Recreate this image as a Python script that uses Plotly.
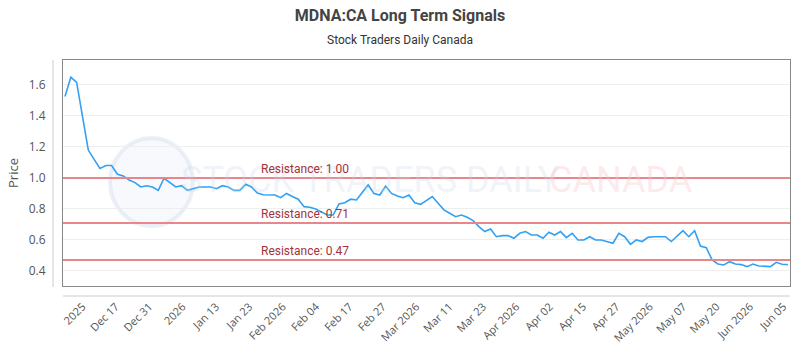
import plotly.graph_objects as go

# ---- data ----
prices = [
    1.525, 1.65, 1.617, 1.39, 1.18, 1.12, 1.062, 1.08, 1.08, 1.024,
    1.013, 0.987, 0.97, 0.942, 0.95, 0.942, 0.92, 0.998, 0.97, 0.942,
    0.95, 0.92, 0.931, 0.942, 0.942, 0.942, 0.931, 0.95, 0.942, 0.92,
    0.92, 0.959, 0.942, 0.903, 0.892, 0.892, 0.89, 0.873, 0.90, 0.88,
    0.863, 0.815, 0.811, 0.80, 0.783, 0.761, 0.761, 0.832, 0.84, 0.863,
    0.858, 0.905, 0.955, 0.90, 0.89, 0.948, 0.90, 0.884, 0.873, 0.89,
    0.84, 0.83, 0.858, 0.88, 0.837, 0.794, 0.772, 0.75, 0.761, 0.746,
    0.725, 0.686, 0.654, 0.671, 0.621, 0.628, 0.628, 0.611, 0.643, 0.654,
    0.632, 0.632, 0.611, 0.65, 0.632, 0.654, 0.615, 0.643, 0.60, 0.60,
    0.621, 0.60, 0.60, 0.59, 0.579, 0.643, 0.621, 0.572, 0.60, 0.59,
    0.617, 0.621, 0.621, 0.621, 0.59, 0.628, 0.66, 0.621, 0.66, 0.561,
    0.55, 0.471, 0.445, 0.439, 0.46, 0.445, 0.441, 0.428, 0.445, 0.432,
    0.432, 0.428, 0.456, 0.443, 0.441,
]
tick_labels = ["2025", "Dec 17", "Dec 31", "2026", "Jan 13", "Jan 23",
               "Feb 2026", "Feb 04", "Feb 17", "Feb 27", "Mar 2026", "Mar 11",
               "Mar 23", "Apr 2026", "Apr 02", "Apr 15", "Apr 27", "May 2026",
               "May 07", "May 20", "Jun 2026", "Jun 05"]
resistance_levels = [1.00, 0.71, 0.47]
y_ticks = [0.4, 0.6, 0.8, 1.0, 1.2, 1.4, 1.6]

x_idx = list(range(len(prices)))
tick_first, tick_step = 3.0, 5.725
tick_pos = [tick_first + tick_step * k for k in range(len(tick_labels))]

PW, PH = 727, 226  # plot area size in pixels

fig = go.Figure()
fig.add_trace(go.Scatter(
    x=x_idx, y=prices, mode="lines",
    line=dict(color="#33a0f2", width=1.6),
    hoverinfo="skip", showlegend=False,
))

shapes = []
annotations = []

# watermark
shapes.append(dict(type="circle", xref="paper", yref="paper",
                   x0=(110 - 63) / PW, x1=(193 - 63) / PW,
                   y0=(286 - 226) / PH, y1=(286 - 138) / PH,
                   line=dict(color="rgba(200,212,232,0.35)", width=4),
                   fillcolor="rgba(225,232,245,0.25)", layer="below"))
annotations.append(dict(text="STOCK TRADERS DAILY", xref="paper", yref="paper",
                        x=(370 - 63) / PW, y=(286 - 180) / PH,
                        showarrow=False, xanchor="center", yanchor="middle",
                        font=dict(family="Liberation Sans Narrow, Roboto", size=36,
                                  color="rgba(205,214,230,0.30)")))
annotations.append(dict(text="CANADA", xref="paper", yref="paper",
                        x=(621 - 63) / PW, y=(286 - 180) / PH,
                        showarrow=False, xanchor="center", yanchor="middle",
                        font=dict(family="Roboto", size=36,
                                  color="rgba(250,195,200,0.35)")))

for lvl in resistance_levels:
    shapes.append(dict(type="line", xref="paper", yref="y", x0=0, x1=1,
                       y0=lvl, y1=lvl, line=dict(color="#e8868b", width=2)))
    annotations.append(dict(text=f"Resistance: {lvl:.2f}", xref="paper", yref="y",
                            x=(259 - 63) / PW, y=lvl, xanchor="left",
                            yanchor="bottom", yshift=0, showarrow=False,
                            font=dict(family="Roboto", size=12, color="#a3333a")))

# outer axis lines (left and bottom)
shapes.append(dict(type="line", xref="paper", yref="paper",
                   x0=-10 / PW, x1=-10 / PW, y0=-1 / PH, y1=1,
                   line=dict(color="#cccccc", width=1)))
shapes.append(dict(type="line", xref="paper", yref="paper",
                   x0=0, x1=1, y0=-10 / PH, y1=-10 / PH,
                   line=dict(color="#cccccc", width=1)))

annotations.append(dict(text="Stock Traders Daily Canada", xref="paper", yref="paper",
                        x=(400 - 63) / PW, y=1 + 20 / PH, showarrow=False,
                        xanchor="center", yanchor="middle",
                        font=dict(family="Roboto", size=12, color="#333333")))

fig.update_layout(
    width=800, height=350,
    margin=dict(l=63, r=10, t=60, b=64, autoexpand=False),
    paper_bgcolor="white", plot_bgcolor="white",
    title=dict(text="<b>MDNA:CA Long Term Signals</b>", x=0.5, xanchor="center",
               y=1 - 15 / 350, yanchor="middle", yref="container",
               font=dict(family="Roboto", size=16, color="#444444")),
    shapes=shapes, annotations=annotations,
    xaxis=dict(range=[-0.34, 124.36], tickmode="array", tickvals=tick_pos,
               ticktext=tick_labels, tickangle=-45, ticks="",
               ticklabelstandoff=9, showgrid=False, zeroline=False,
               automargin=False,
               showline=True, mirror=True, linecolor="#888888", linewidth=1,
               tickfont=dict(family="Open Sans", size=11, color="#555555")),
    yaxis=dict(range=[0.303, 1.761], tickmode="array", tickvals=y_ticks,
               ticktext=[f"{v:.1f}" for v in y_ticks], ticks="",
               ticklabelstandoff=14, showgrid=True, gridcolor="#eeeeee",
               gridwidth=1, zeroline=False, showline=True, mirror=True,
               linecolor="#888888", linewidth=1, automargin=False,
               title=dict(text="Price", standoff=7,
                          font=dict(family="Open Sans", size=13, color="#555555")),
               tickfont=dict(family="Open Sans", size=12, color="#555555")),
)

fig.write_html("out.html")
